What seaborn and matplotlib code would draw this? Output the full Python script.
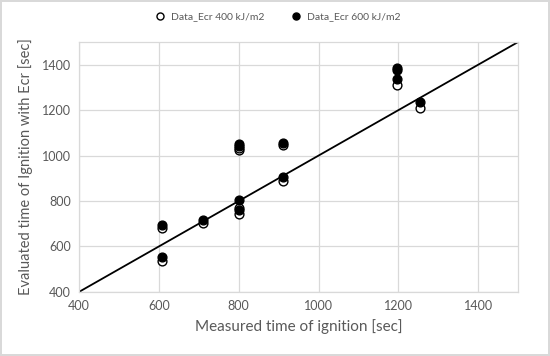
import matplotlib
matplotlib.use("Agg")
import matplotlib.pyplot as plt
import seaborn as sns
import pandas as pd

# Data_Ecr 400 kJ/m2 (open circles)
x_400 = [608, 608, 710, 800, 800, 800, 800, 910, 910, 1197, 1255]
y_400 = [535, 682, 703, 742, 770, 1025, 1033, 888, 1045, 1310, 1208]
# Data_Ecr 600 kJ/m2 (filled circles)
x_600 = [608, 608, 710, 800, 800, 800, 800, 910, 910, 1197, 1197, 1197, 1255]
y_600 = [553, 693, 716, 762, 806, 1042, 1052, 908, 1055, 1338, 1375, 1385, 1234]
# 1:1 reference line
line_x = [400, 1500]
line_y = [400, 1500]

xticks = [400, 600, 800, 1000, 1200, 1400]
yticks = [400, 600, 800, 1000, 1200, 1400]

sns.set_theme(style="white")
plt.rcParams['font.family'] = ['Lato', 'DejaVu Sans']
txt = '#595959'
grid = '#d9d9d9'

fig = plt.figure(figsize=(5.5, 3.56), dpi=100, edgecolor=grid, linewidth=1.5)
ax = fig.add_axes([0.1436, 0.180, 0.7984, 0.702])

df400 = pd.DataFrame({'x': x_400, 'y': y_400})
df600 = pd.DataFrame({'x': x_600, 'y': y_600})
dfl = pd.DataFrame({'x': line_x, 'y': line_y})

sns.lineplot(data=dfl, x='x', y='y', ax=ax, color='black', linewidth=1.3, zorder=2)
sns.scatterplot(data=df400, x='x', y='y', ax=ax, marker='o', s=40,
                facecolor='white', edgecolor='black', linewidth=1.0,
                label='Data_Ecr 400 kJ/m2', zorder=3)
sns.scatterplot(data=df600, x='x', y='y', ax=ax, marker='o', s=40,
                color='black', edgecolor='black', linewidth=1.0,
                label='Data_Ecr 600 kJ/m2', zorder=4)

ax.set_xlim(400, 1500)
ax.set_ylim(400, 1500)
ax.set_xticks(xticks)
ax.set_yticks(yticks)
ax.grid(True, color=grid, linewidth=0.9)
ax.set_axisbelow(True)
for s in ax.spines.values():
    s.set_color(grid)
    s.set_linewidth(0.9)
ax.tick_params(axis='both', colors=txt, labelsize=9, length=0, pad=6)
ax.set_xlabel('Measured time of ignition [sec]', color=txt, fontsize=11, labelpad=5)
ax.set_ylabel('Evaluated time of Ignition with Ecr [sec]', color=txt, fontsize=10.5, labelpad=6)

h, l = ax.get_legend_handles_labels()
ax.get_legend().remove()
fig.legend(h, l, loc='center', bbox_to_anchor=(0.5, 0.955), ncol=2, frameon=False,
           fontsize=7.5, labelcolor=txt, handletextpad=0.1, columnspacing=2.0,
           markerscale=0.8)

fig.savefig('out.png', dpi=100, edgecolor=fig.get_edgecolor())
